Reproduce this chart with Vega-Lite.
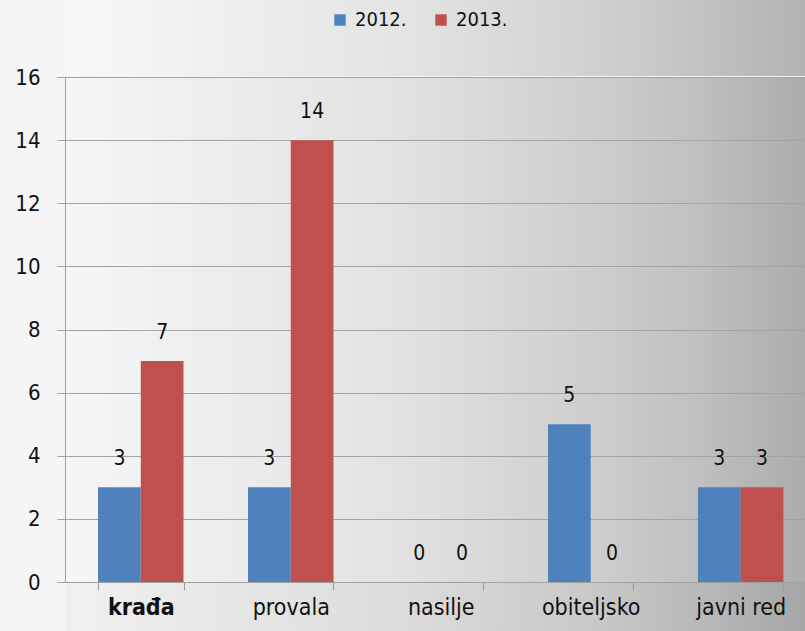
{
  "$schema": "https://vega.github.io/schema/vega-lite/v6.json",
  "width": 740,
  "height": 505,
  "autosize": {"type": "none"},
  "padding": {"left": 65, "top": 77, "right": 0, "bottom": 49},
  "background": "#f5f5f5",
  "config": {
    "view": {
      "stroke": null,
      "fill": {"gradient": "linear", "x1": 0, "y1": 0, "x2": 1, "y2": 0,
        "stops": [
          {"offset": 0, "color": "#f6f6f6"},
          {"offset": 0.45, "color": "#e2e2e2"},
          {"offset": 0.72, "color": "#cdcdcd"},
          {"offset": 0.86, "color": "#bfbfbf"},
          {"offset": 1, "color": "#acacac"}
        ]}
    },
    "font": "DejaVu Sans Condensed, Liberation Sans, sans-serif"
  },
  "layer": [
    {
      "data": {"values": [{"strip": "top"}]},
      "mark": {"type": "rect", "clip": false,
        "fill": {"gradient": "linear", "x1": 0, "y1": 0, "x2": 1, "y2": 0,
          "stops": [
            {"offset": 0, "color": "#f8f8f8"},
            {"offset": 0.45, "color": "#e4e4e4"},
            {"offset": 0.72, "color": "#d0d0d0"},
            {"offset": 0.86, "color": "#c2c2c2"},
            {"offset": 1, "color": "#b2b2b2"}
          ]}},
      "encoding": {
        "y": {"datum": 18.6, "type": "quantitative", "scale": {"domain": [0, 16]}},
        "y2": {"datum": 16.03}
      }
    },
    {
      "data": {"values": [{"strip": "bottom"}]},
      "mark": {"type": "rect", "clip": false,
        "fill": {"gradient": "linear", "x1": 0, "y1": 0, "x2": 1, "y2": 0,
          "stops": [
            {"offset": 0, "color": "#f0f0f0"},
            {"offset": 0.45, "color": "#dcdcdc"},
            {"offset": 0.72, "color": "#c8c8c8"},
            {"offset": 0.86, "color": "#b8b8b8"},
            {"offset": 1, "color": "#a6a6a6"}
          ]}},
      "encoding": {
        "y": {"datum": -0.03, "type": "quantitative"},
        "y2": {"datum": -1.7}
      }
    },
    {
      "data": {"values": [
        {"kategorija": "krađa", "godina": "2012.", "broj": 3},
        {"kategorija": "krađa", "godina": "2013.", "broj": 7},
        {"kategorija": "provala", "godina": "2012.", "broj": 3},
        {"kategorija": "provala", "godina": "2013.", "broj": 14},
        {"kategorija": "nasilje", "godina": "2012.", "broj": 0},
        {"kategorija": "nasilje", "godina": "2013.", "broj": 0},
        {"kategorija": "obiteljsko", "godina": "2012.", "broj": 5},
        {"kategorija": "obiteljsko", "godina": "2013.", "broj": 0},
        {"kategorija": "javni red", "godina": "2012.", "broj": 3},
        {"kategorija": "javni red", "godina": "2013.", "broj": 3}
      ]},
      "encoding": {
        "x": {"field": "kategorija", "type": "nominal",
          "sort": ["krađa", "provala", "nasilje", "obiteljsko", "javni red"],
          "scale": {"paddingInner": 0.43, "paddingOuter": 0.182, "align": 0.605},
          "axis": {"title": null, "labelAngle": 0, "zindex": 1,
            "tickBand": "extent", "tickSize": 8, "tickColor": "#999999",
            "domainColor": "#a0a0a0", "labelFontSize": 23, "labelColor": "#111111",
            "labelPadding": 6,
            "labelFontWeight": {"condition": {"test": "datum.value === 'krađa'", "value": "bold"}, "value": "normal"}}},
        "xOffset": {"field": "godina", "type": "nominal"},
        "y": {"field": "broj", "type": "quantitative",
          "scale": {"domain": [0, 16]},
          "axis": {"title": null, "values": [0, 2, 4, 6, 8, 10, 12, 14, 16],
            "grid": true, "gridColor": "#a3a3a3", "tickSize": 8, "tickColor": "#a0a0a0",
            "domainColor": "#a0a0a0", "labelFontSize": 22, "labelColor": "#111111",
            "labelPadding": 17}},
        "color": {"field": "godina", "type": "nominal",
          "scale": {"domain": ["2012.", "2013."], "range": ["#4f81bd", "#c0504d"]},
          "legend": {"orient": "none", "legendX": 265, "legendY": -67,
            "direction": "horizontal", "title": null, "symbolType": "square",
            "symbolSize": 130, "symbolStrokeWidth": 0, "labelFontSize": 20,
            "labelColor": "#111111", "columnPadding": 24, "labelOffset": 5, "padding": 0}}
      },
      "layer": [
        {"mark": {"type": "bar"}},
        {"mark": {"type": "text", "baseline": "middle", "dy": -28, "fontSize": 21, "color": "#111111"},
          "encoding": {"text": {"field": "broj", "type": "quantitative"}, "color": {"value": "#111111"}}}
      ]
    }
  ]
}
